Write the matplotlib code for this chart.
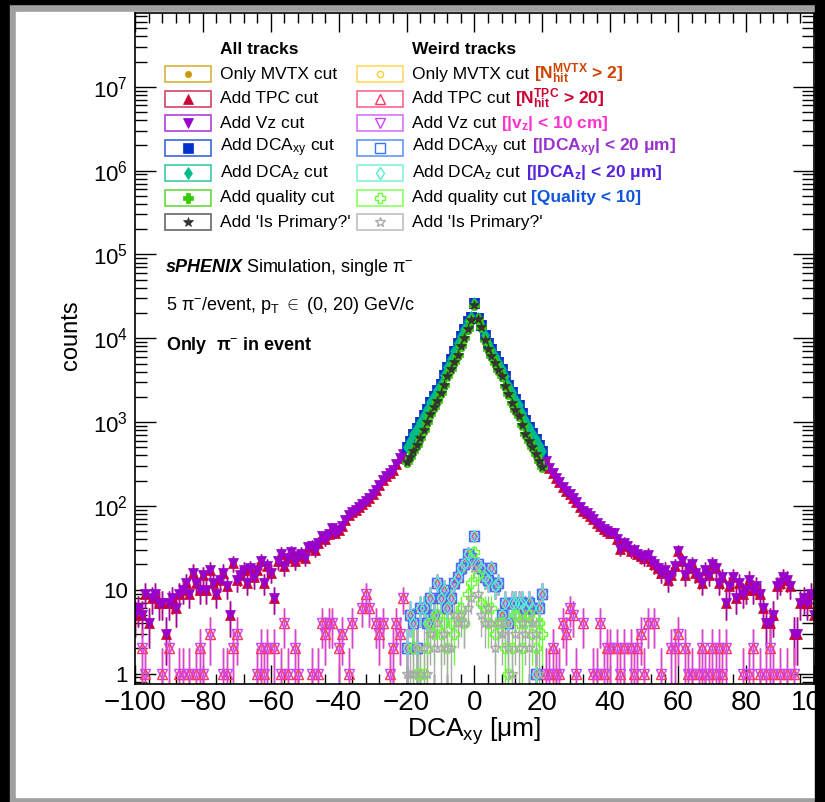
import numpy as np
import matplotlib
matplotlib.use("Agg")
import matplotlib.pyplot as plt
from matplotlib.patches import Rectangle
from matplotlib.ticker import MultipleLocator, LogLocator, FuncFormatter, NullFormatter

plt.rcParams['font.family'] = ['Liberation Sans', 'DejaVu Sans']
plt.rcParams['mathtext.fontset'] = 'custom'
plt.rcParams['mathtext.rm'] = 'Liberation Sans'
plt.rcParams['mathtext.it'] = 'Liberation Sans:italic'
plt.rcParams['mathtext.bf'] = 'Liberation Sans:bold'

W, H = 825, 802

# bin centres [um]
bins_full = np.arange(-100, 101)
bins_cut = np.arange(-20, 21)

# all tracks, MVTX / TPC / Vz cuts (DCA cuts keep |x| <= 20 of it)
counts_all = [
    5, 6, 5, 9, 4, 8, 9, 7, 7, 3, 7, 8, 6, 9, 10, 12, 9, 16, 12, 10,
    15, 10, 17, 12, 9, 13, 16, 11, 5, 21, 13, 15, 17, 12, 18, 14, 17, 22, 12, 19,
    16, 8, 22, 27, 19, 24, 28, 22, 25, 27, 24, 32, 33, 30, 36, 44, 40, 46, 55, 48,
    52, 58, 68, 78, 84, 90, 98, 105, 115, 125, 140, 155, 180, 205, 225, 245, 270, 320, 370, 420,
    510, 600, 720, 850, 1000, 1200, 1450, 1750, 2050, 2400, 2850, 3600, 4500, 5600, 7000, 8700,
    10500, 13000, 16000, 18000,
    26000,
    17500, 14500, 11000, 8800, 7400, 6200, 5200, 4300, 3500, 2800, 2300, 1900, 1600, 1300,
    1050, 880, 740, 620, 530, 450,
    340, 280, 245, 215, 195, 170, 150, 138, 125, 112, 98, 88, 82, 76, 70, 62, 57, 53, 50, 48,
    47, 40, 31, 36, 33, 29, 30, 27, 25, 24, 26, 22, 20, 18, 16, 17, 13, 15, 19, 29,
    22, 15, 18, 20, 16, 14, 12, 17, 15, 20, 18, 12, 14, 7, 11, 14, 8, 12, 9, 10,
    13, 10, 11, 9, 6, 4, 4, 5, 11, 12, 14, 13, 11, 3, 3, 7, 8, 7, 9, 5,
]

# all tracks after quality / 'Is Primary?' cuts, |x| <= 20
counts_qual = [
    330, 380, 450, 540, 650, 800, 1000, 1250, 1500, 1800, 2200, 2800, 3500, 4300, 5200, 6400,
    8000, 10000, 13000, 16500,
    25000,
    17000, 13500, 9600, 7500, 6200, 5100, 4200, 3500, 2700, 2150, 1700, 1380, 1170, 920, 720,
    590, 500, 420, 340, 290,
]

# weird tracks, |x| <= 20
weird_center = [2, 5, 4, 2, 6, 6, 4, 8, 5, 12, 8, 10, 6, 8, 12, 14, 18, 20, 27, 24,
                44,
                20, 18, 14, 13, 18, 11, 12, 5, 7, 4, 7, 7, 7, 7, 6, 7, 6, 1, 6, 9]
weird_qual = [0, 0, 2, 1, 1, 1, 2, 4, 3, 5, 3, 4, 2, 4, 3, 5, 6, 4, 9, 12,
              28,
              15, 7, 6, 4, 6, 3, 4, 4, 2, 1, 2, 5, 4, 2, 4, 5, 3, 2, 4, 3]
weird_prim = [1, 1, 1, 2, 1, 2, 1, 3, 2, 4, 2, 3, 2, 2, 5, 4, 5, 4, 6, 8,
              18,
              9, 5, 4, 6, 4, 2, 4, 3, 4, 2, 1, 3, 2, 4, 3, 2, 4, 3, 1, 0]

# weird tracks outside |x| <= 20 (only non-empty bins)
weird_out_x = [-98, -97, -92, -90, -87, -86, -84, -82, -81, -80, -78, -74, -73, -71, -70,
               -64, -63, -62, -61, -59, -57, -56, -55, -53, -52, -48, -46, -45, -44, -43,
               -42, -40, -39, -37, -36, -33, -32, -31, -29, -28, -27, -25, -24, -23, -22, -21,
               21, 22, 23, 24, 25, 26, 27, 28, 29, 30, 32, 35, 36, 37, 38, 39, 40, 42, 43,
               44, 46, 47, 48, 49, 50, 51, 53, 55, 58, 59, 60, 62, 63, 64, 66, 67, 68, 69,
               70, 71, 72, 73, 74, 79, 81, 82, 84, 86, 87, 88, 90, 92, 94]
weird_out_n = [2, 1, 1, 2, 1, 1, 1, 1, 2, 1, 3, 1, 1, 2, 3,
               1, 2, 1, 2, 2, 1, 4, 1, 2, 1, 1, 1, 4, 3, 4,
               4, 2, 3, 1, 4, 6, 9, 6, 4, 3, 4, 1, 2, 4, 3, 8,
               1, 1, 2, 1, 1, 4, 3, 6, 5, 1, 4, 1, 1, 4, 1, 2, 2, 2, 1,
               2, 2, 1, 2, 3, 1, 4, 4, 1, 2, 2, 3, 2, 1, 1, 1, 2, 1, 1,
               2, 1, 2, 1, 2, 1, 1, 2, 1, 1, 2, 1, 1, 1, 1]

all_labels = ["Only MVTX cut", "Add TPC cut", "Add Vz cut", r"Add DCA$_{\mathrm{xy}}$ cut",
              r"Add DCA$_{\mathrm{z}}$ cut", "Add quality cut", "Add 'Is Primary?'"]
cut_labels = [r"[$\mathbf{N^{MVTX}_{hit}}$ > 2]", r"[$\mathbf{N^{TPC}_{hit}}$ > 20]",
              r"[|v$_{\mathbf{z}}$| < 10 cm]", r"[|DCA$_{\mathbf{xy}}$| < 20 μm]",
              r"[|DCA$_{\mathbf{z}}$| < 20 μm]", "[Quality < 10]", ""]
cut_colors = ['#cc4400', '#cc0033', '#ff33cc', '#9933cc', '#5522dd', '#1155dd', 'k']

main_colors = ['#cc9900', '#cc0033', '#9900cc', '#0033cc', '#00bb88', '#33cc00', '#333333']
weird_colors = ['#ffcc33', '#ff3366', '#cc44ff', '#3377ff', '#55eecc', '#66ff33', '#aaaaaa']
markers = ['o', '^', 'v', 's', 'd', 'P', '*']
msizes = [4.5, 6.5, 6.5, 6.5, 6.5, 6.5, 7.5]


def draw_series(ax, x, n, color, marker, ms, filled):
    x = np.asarray(x, float)
    n = np.asarray(n, float)
    keep = n > 0
    x, n = x[keep], n[keep]
    err = np.sqrt(n)
    lo = np.minimum(err, n - 1e-3)
    ax.errorbar(x, n, yerr=[lo, err], fmt=marker, color=color, ms=ms,
                mfc=color if filled else 'none', mec=color, mew=1.0 if not filled else 0.5,
                elinewidth=1, capsize=0)


def fx(x):
    return x / W


def fy(y):
    return 1 - y / H


fig = plt.figure(figsize=(W / 100, H / 100), dpi=100, facecolor='black')
fig.add_artist(Rectangle((fx(10), fy(802)), fx(815) - fx(10), fy(4) - fy(802),
                         transform=fig.transFigure, color='#a0a0a0', zorder=-2))
fig.add_artist(Rectangle((fx(16), fy(797)), fx(815) - fx(16), fy(12) - fy(797),
                         transform=fig.transFigure, color='white', zorder=-1))

ax = fig.add_axes([fx(135), fy(684), fx(814) - fx(135), fy(13) - fy(684)])
ax.set_yscale('log')

# all tracks
full_x = [bins_full, bins_full, bins_full, bins_cut, bins_cut, bins_cut, bins_cut]
cut_all = counts_all[80:121]
full_n = [counts_all, counts_all, counts_all, cut_all, cut_all, counts_qual, counts_qual]
for i in range(7):
    draw_series(ax, full_x[i], full_n[i], main_colors[i], markers[i], msizes[i], True)

# weird tracks
weird_x = np.concatenate([weird_out_x, bins_cut])
weird_n = np.concatenate([weird_out_n, weird_center])
wx = [weird_x, weird_x, weird_x, bins_cut, bins_cut, bins_cut, bins_cut]
wn = [weird_n, weird_n, weird_n, weird_center, weird_center, weird_qual, weird_prim]
for i in range(7):
    draw_series(ax, wx[i], wn[i], weird_colors[i], markers[i], msizes[i], False)

ax.set_xlim(-100, 100)
ax.set_ylim(0.75, 7.6e7)
ax.xaxis.set_major_locator(MultipleLocator(20))
ax.xaxis.set_minor_locator(MultipleLocator(4))
ax.yaxis.set_major_locator(LogLocator(base=10, numticks=20))
ax.yaxis.set_minor_locator(LogLocator(base=10, subs=np.arange(2, 10), numticks=100))
ax.yaxis.set_minor_formatter(NullFormatter())


def log_label(v, pos):
    e = int(round(np.log10(v)))
    if e == 0:
        return '1'
    if e == 1:
        return '10'
    return r'$10^{%d}$' % e


ax.yaxis.set_major_formatter(FuncFormatter(log_label))
ax.tick_params(which='both', direction='in', top=True, right=True, width=1)
ax.tick_params(axis='x', which='major', length=14, labelsize=20, pad=4)
ax.tick_params(axis='x', which='minor', length=7)
ax.tick_params(axis='y', which='major', length=15, labelsize=16, pad=5)
ax.tick_params(axis='y', which='minor', length=8.5)
for s in ax.spines.values():
    s.set_linewidth(1.2)

ax.set_xlabel(r"DCA$_{\mathrm{xy}}$ [μm]", fontsize=19)
ax.xaxis.set_label_coords(0.5, -0.047)
ax.set_ylabel("counts", fontsize=17)
ax.yaxis.set_label_coords(-0.078, 0.52)

# legend
fig.text(fx(220), fy(50), "All tracks", fontsize=12.5, fontweight='bold', va='center')
fig.text(fx(412), fy(50), "Weird tracks", fontsize=12.5, fontweight='bold', va='center')
fig.canvas.draw()
rend = fig.canvas.get_renderer()
for i in range(7):
    yc = 74 + 24.7 * i
    for bx, col, filled in [(165, main_colors[i], True), (357, weird_colors[i], False)]:
        fig.add_artist(Rectangle((fx(bx), fy(yc + 8)), fx(46), 16 / H, transform=fig.transFigure,
                                 fill=False, edgecolor=col, alpha=0.75, lw=1.2))
        fig.add_artist(plt.Line2D([fx(bx + 23)], [fy(yc)], marker=markers[i], ms=msizes[i],
                                  color=col, mfc=col if filled else 'none', mec=col,
                                  mew=1.0 if not filled else 0.5, transform=fig.transFigure))
    fig.text(fx(220), fy(yc), all_labels[i], fontsize=12.5, va='center')
    t = fig.text(fx(412), fy(yc), all_labels[i], fontsize=12.5, va='center')
    if cut_labels[i]:
        bb = t.get_window_extent(rend)
        fig.text(fx(bb.x1 + 5), fy(yc), cut_labels[i], fontsize=12.5, va='center',
                 fontweight='bold', color=cut_colors[i])

t = fig.text(fx(166), fy(268), "sPHENIX", fontsize=13, fontweight='bold', fontstyle='italic',
             va='center')
bb = t.get_window_extent(rend)
fig.text(fx(bb.x1 + 3), fy(268), r"Simulation, single π$^{-}$", fontsize=13, va='center')
fig.text(fx(166), fy(306), r"5 π$^{-}$/event, p$_{\mathrm{T}}$ ${\in}$ (0, 20) GeV/c",
         fontsize=13, va='center')
fig.text(fx(166), fy(345), r"Only  π$^{-}$ in event", fontsize=13, fontweight='bold',
         va='center')

# dark border on the right hides the end of the last tick label
fig.add_artist(Rectangle((fx(815), 0), fx(10), 1, transform=fig.transFigure,
                         color='black', zorder=10))
fig.add_artist(Rectangle((0, fy(4)), 1, fy(0) - fy(4), transform=fig.transFigure,
                         color='black', zorder=10))

fig.savefig("out.png", dpi=100, facecolor='black')
